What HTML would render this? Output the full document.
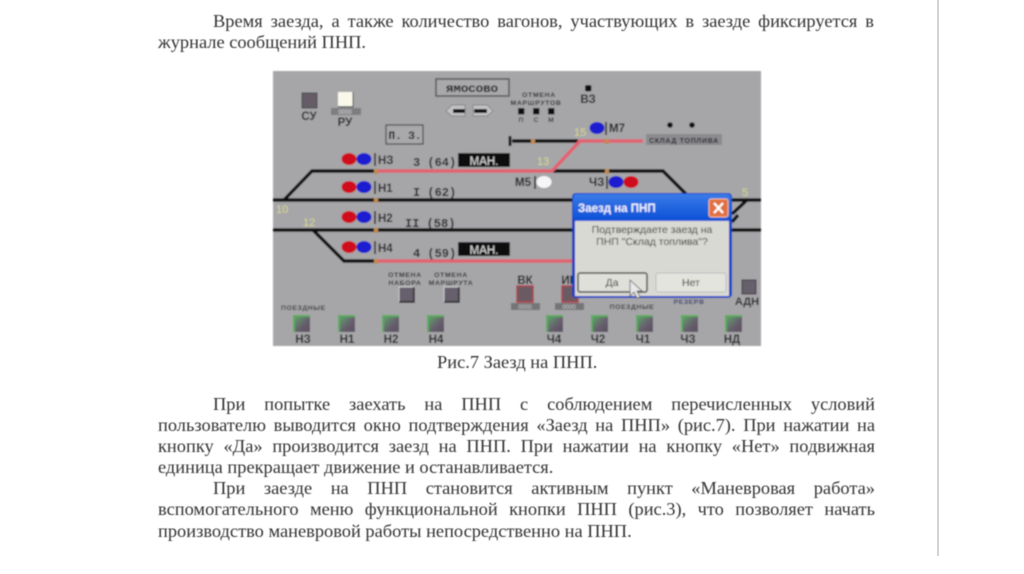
<!DOCTYPE html>
<html><head><meta charset="utf-8">
<style>
html,body{margin:0;padding:0;background:#fff}
#p{position:relative;width:1024px;height:574px;overflow:hidden;background:#fff}
.l{position:absolute;height:20px;font:18.4px/20px "Liberation Serif","Noto Serif CJK SC",serif;color:#333;white-space:nowrap;filter:blur(.45px)}
.j{text-align:justify;text-align-last:justify;white-space:normal;word-spacing:-1.5px}
svg{position:absolute;left:0;top:0}
svg text{font-family:"Liberation Sans","DejaVu Sans",sans-serif}
svg text.m{font-family:"Liberation Mono","DejaVu Sans Mono",monospace;font-weight:bold}
</style></head><body><div id="p">
<div style="position:absolute;left:937px;top:0;width:2px;height:556px;background:#d4d4d4"></div>
<div class="l j" style="left:213px;top:11px;width:661px">Время заезда, а также количество вагонов, участвующих в заезде фиксируется в</div>
<div class="l" style="left:158px;top:32px">журнале сообщений ПНП.</div>
<div class="l" style="left:437px;top:352px">Рис.7 Заезд на ПНП.</div>
<div class="l j" style="left:213px;top:394px;width:662px">При попытке заехать на ПНП с соблюдением перечисленных условий</div>
<div class="l j" style="left:158px;top:415px;width:717px">пользователю выводится окно подтверждения «Заезд на ПНП» (рис.7). При нажатии на</div>
<div class="l j" style="left:158px;top:436px;width:717px">кнопку «Да» производится заезд на ПНП. При нажатии на кнопку «Нет» подвижная</div>
<div class="l" style="left:158px;top:457px">единица прекращает движение и останавливается.</div>
<div class="l j" style="left:213px;top:478px;width:662px">При заезде на ПНП становится активным пункт «Маневровая работа»</div>
<div class="l j" style="left:158px;top:499px;width:717px">вспомогательного меню функциональной кнопки ПНП (рис.3), что позволяет начать</div>
<div class="l" style="left:158px;top:521px">производство маневровой работы непосредственно на ПНП.</div>

<svg width="1024" height="574" viewBox="0 0 1024 574" xmlns="http://www.w3.org/2000/svg">
<defs><filter id="b" x="-2%" y="-2%" width="104%" height="104%"><feGaussianBlur stdDeviation=".7"/></filter>
<linearGradient id="t" x1="0" y1="0" x2="0" y2="1"><stop offset="0" stop-color="#3a7be8"/><stop offset="1" stop-color="#0a4fd6"/></linearGradient>
<linearGradient id="g" x1="0" y1="0" x2="1" y2="1"><stop offset="0" stop-color="#5f9f6a"/><stop offset=".55" stop-color="#665e6c"/><stop offset="1" stop-color="#5b4f60"/></linearGradient></defs>
<g filter="url(#b)">
<rect x="273" y="71" width="488" height="275" fill="#a6a6a9"/>
<!-- tracks -->
<g fill="none" stroke="#0a0a0a" stroke-width="3.4">
<path d="M273 200H761M273 230H761"/>
<path d="M284 200L312 171H375"/>
<path d="M313 230L344 261H375"/>
<path d="M512 141H578"/>
<path d="M553 171H663L686 194"/>
<path d="M732 214L746 201M732 222L738 215"/>
</g>
<path d="M510 136V146" stroke="#0c0c0c" stroke-width="3"/>
<g fill="none" stroke="#e2626f" stroke-width="3.6">
<path d="M375 171H552L580 141H643"/>
<path d="M375 261H575"/>
</g>
<g fill="#c08a50"><rect x="374" y="169" width="4" height="5"/><rect x="374" y="198" width="4" height="5"/><rect x="374" y="228" width="4" height="5"/><rect x="374" y="259" width="4" height="5"/><rect x="531" y="139" width="4" height="5"/><rect x="605" y="139" width="4" height="5"/><rect x="605" y="169" width="4" height="5"/></g>

<!-- top-left controls -->
<rect x="302" y="93" width="15" height="15" fill="#655c68" stroke="#444" stroke-width="1"/>
<text x="309" y="120" font-size="11.5" font-weight="bold" fill="#1a1a1a" text-anchor="middle">СУ</text>
<rect x="338" y="92" width="15" height="14" fill="#f9f8ea"/><path d="M353 92V107H338" fill="none" stroke="#333"/>
<rect x="331" y="108" width="30" height="7" fill="#7d7d80"/>
<text x="345" y="114" font-size="6" fill="#ddd" text-anchor="middle">0000</text>
<text x="345" y="126" font-size="11.5" font-weight="bold" fill="#1a1a1a" text-anchor="middle">РУ</text>

<rect x="436" y="79" width="73" height="17" fill="#a9a9ac" stroke="#555" stroke-width="1.5"/>
<text x="472" y="92" class="m" font-size="10.5" fill="#111" text-anchor="middle" textLength="52" lengthAdjust="spacingAndGlyphs">ЯМОСОВО</text>
<path d="M446 111L452 105H465V116H452ZM493 111L487 105H473V116H487Z" fill="#c2c2c4" stroke="#777" stroke-width=".7"/>
<rect x="453" y="109" width="12" height="4" fill="#111"/><rect x="474" y="109" width="13" height="4" fill="#111"/>

<rect x="386" y="125" width="37" height="19" fill="#a9a9ac" stroke="#444" stroke-width="1.2"/>
<text x="405" y="139" class="m" font-size="11" fill="#111" text-anchor="middle">П. З.</text>

<g class="sm" font-size="6.8" font-weight="bold" fill="#222" text-anchor="middle" letter-spacing=".7">
<text x="539" y="97">ОТМЕНА</text><text x="536" y="105">МАРШРУТОВ</text></g>
<g fill="#0a0a0a"><rect x="518" y="108" width="6.5" height="6.5"/><rect x="533" y="108" width="6.5" height="6.5"/><rect x="548" y="108" width="6.5" height="6.5"/></g>
<g font-size="6.8" fill="#333" text-anchor="middle" font-weight="bold"><text x="521" y="122">П</text><text x="536" y="122">С</text><text x="551" y="122">М</text></g>
<rect x="585" y="85" width="6.5" height="6.5" rx="2" fill="#0a0a0a"/>
<text x="588" y="103" font-size="11.5" font-weight="bold" fill="#1a1a1a" text-anchor="middle">ВЗ</text>

<!-- signals -->
<g>
<ellipse cx="349" cy="159" rx="7.5" ry="6" fill="#d0101c"/><ellipse cx="364" cy="159" rx="7.5" ry="6" fill="#1a1ad0"/>
<ellipse cx="349" cy="187" rx="7.5" ry="6" fill="#d0101c"/><ellipse cx="364" cy="187" rx="7.5" ry="6" fill="#1a1ad0"/>
<ellipse cx="349" cy="217" rx="7.5" ry="6" fill="#d0101c"/><ellipse cx="364" cy="217" rx="7.5" ry="6" fill="#1a1ad0"/>
<ellipse cx="349" cy="247" rx="7.5" ry="6" fill="#d0101c"/><ellipse cx="364" cy="247" rx="7.5" ry="6" fill="#1a1ad0"/>
<ellipse cx="597" cy="128" rx="7.5" ry="6" fill="#1a1ad0"/>
<ellipse cx="616" cy="182" rx="7.5" ry="6" fill="#1a1ad0"/><ellipse cx="631" cy="182" rx="7.5" ry="6" fill="#d0101c"/>
<ellipse cx="544" cy="182" rx="7.5" ry="6" fill="#f6f6f6"/>
</g>
<g stroke="#0a0a0a" stroke-width="1.4"><path d="M375 153V166M375 181V194M375 211V224M375 241V254M606 122V135M607 176V189M535 176V189"/></g>
<g font-size="11.5" font-weight="bold" fill="#1a1a1a">
<text x="378" y="164">НЗ</text><text x="378" y="192">Н1</text><text x="378" y="222">Н2</text><text x="378" y="252">Н4</text>
<text x="609" y="132">М7</text><text x="515" y="186">М5</text><text x="589" y="186">ЧЗ</text>
</g>
<g fill="#1a1a1a" font-size="12">
<text class="m" x="413" y="166" font-size="12">3 (64)</text><text class="m" x="413" y="196" font-size="12">I (62)</text><text class="m" x="405" y="227" font-size="12">II (58)</text><text class="m" x="413" y="257" font-size="12">4 (59)</text>
</g>
<rect x="458" y="153" width="52" height="14" fill="#0a0a0a"/><rect x="458" y="242" width="52" height="14" fill="#0a0a0a"/>
<text x="484" y="165" font-size="11.5" fill="#e0e0e0" text-anchor="middle">МАН.</text>
<text x="484" y="254" font-size="11.5" fill="#e0e0e0" text-anchor="middle">МАН.</text>

<!-- switch numbers -->
<g font-size="11" fill="#d8d88c"><text x="276" y="213">10</text><text x="303" y="226">12</text><text x="537" y="165">13</text><text x="574" y="136">15</text><text x="742" y="196">5</text></g>

<!-- depot -->
<rect x="646" y="134" width="76" height="11" fill="#8c8c90"/>
<text x="684" y="143" font-size="7" font-weight="bold" fill="#1a1a1a" text-anchor="middle" letter-spacing=".7">СКЛАД ТОПЛИВА</text>
<circle cx="670" cy="125" r="2.8" fill="#0a0a0a"/><circle cx="692" cy="125" r="2.8" fill="#0a0a0a"/>

<!-- cancel buttons -->
<g font-size="6.8" font-weight="bold" fill="#222" text-anchor="middle" letter-spacing=".7"><text x="405" y="277">ОТМЕНА</text><text x="405" y="285">НАБОРА</text><text x="451" y="277">ОТМЕНА</text><text x="451" y="285">МАРШРУТА</text></g>
<rect x="399" y="287" width="15" height="15" fill="#665e6c" stroke="#ddd" stroke-width=".8"/><path d="M414 287V302H399" fill="none" stroke="#1a1a1a" stroke-width="1.4"/>
<rect x="444" y="287" width="15" height="15" fill="#665e6c" stroke="#ddd" stroke-width=".8"/><path d="M459 287V302H444" fill="none" stroke="#1a1a1a" stroke-width="1.4"/>

<text x="281" y="310" font-size="6.8" font-weight="bold" fill="#333" letter-spacing=".6">ПОЕЗДНЫЕ</text>
<text x="632" y="309" font-size="6.8" font-weight="bold" fill="#333" text-anchor="middle" letter-spacing=".6">ПОЕЗДНЫЕ</text>
<text x="689" y="304" font-size="6.8" font-weight="bold" fill="#33336a" text-anchor="middle" letter-spacing=".6">РЕЗЕРВ</text>

<!-- green buttons -->
<g fill="#5caa5c">
<rect x="293" y="315" width="17" height="17"/><rect x="338" y="315" width="17" height="17"/><rect x="382" y="315" width="17" height="17"/><rect x="427" y="315" width="17" height="17"/>
<rect x="546" y="315" width="17" height="17"/><rect x="591" y="315" width="17" height="17"/><rect x="636" y="315" width="17" height="17"/><rect x="681" y="315" width="17" height="17"/><rect x="725" y="315" width="17" height="17"/>
</g>
<g fill="url(#g)">
<rect x="295" y="317" width="15" height="15"/><rect x="340" y="317" width="15" height="15"/><rect x="384" y="317" width="15" height="15"/><rect x="429" y="317" width="15" height="15"/>
<rect x="548" y="317" width="15" height="15"/><rect x="593" y="317" width="15" height="15"/><rect x="638" y="317" width="15" height="15"/><rect x="683" y="317" width="15" height="15"/><rect x="727" y="317" width="15" height="15"/>
</g>
<g font-size="11.5" font-weight="bold" fill="#1a1a1a" text-anchor="middle">
<text x="303" y="343">НЗ</text><text x="347" y="343">Н1</text><text x="391" y="343">Н2</text><text x="436" y="343">Н4</text>
<text x="554" y="343">Ч4</text><text x="598" y="343">Ч2</text><text x="643" y="343">Ч1</text><text x="688" y="343">ЧЗ</text><text x="732" y="343">НД</text>
</g>

<!-- VK / IK -->
<text x="525" y="284" font-size="11.5" font-weight="bold" fill="#1a1a1a" text-anchor="middle">ВК</text>
<text x="569" y="284" font-size="11.5" font-weight="bold" fill="#1a1a1a" text-anchor="middle">ИК</text>
<rect x="517" y="286" width="16" height="16" fill="#6c5a64" stroke="#b04048" stroke-width="1.5"/>
<rect x="562" y="286" width="16" height="16" fill="#6c5a64" stroke="#b04048" stroke-width="1.5"/>
<rect x="511" y="303" width="29" height="7" fill="#757578"/><rect x="555" y="303" width="29" height="7" fill="#757578"/>
<text x="525" y="309" font-size="6" fill="#ccc" text-anchor="middle">0000</text><text x="569" y="309" font-size="6" fill="#ccc" text-anchor="middle">0000</text>

<!-- ADN -->
<rect x="742" y="280" width="14" height="14" fill="#665e6c" stroke="#333"/>
<text x="747" y="305" font-size="11" font-weight="bold" fill="#1a1a1a" text-anchor="middle">АДН</text>

<!-- dialog -->
<rect x="572" y="193" width="160" height="105" rx="4" fill="#0c3fc4"/>
<rect x="573" y="194" width="158" height="27" rx="4" fill="url(#t)"/>
<rect x="575" y="221" width="154" height="75" fill="#d9d9d4"/>
<text x="578" y="212" font-size="11.5" font-weight="bold" fill="#eef2ff">Заезд на ПНП</text>
<rect x="709" y="199" width="19" height="18" rx="2" fill="#e0703c" stroke="#f0c0a0"/>
<path d="M714 203L723 213M723 203L714 213" stroke="#fff" stroke-width="2.2"/>
<text x="652" y="233" font-size="10.5" fill="#222" text-anchor="middle">Подтверждаете заезд на</text>
<text x="652" y="245" font-size="10.5" fill="#222" text-anchor="middle">ПНП "Склад топлива"?</text>
<rect x="578" y="273" width="69" height="19" rx="2" fill="#e0e0da" stroke="#444" stroke-width="1.5"/>
<rect x="656" y="273" width="70" height="19" rx="2" fill="#e4e4de" stroke="#bbb" stroke-width="1"/>
<text x="612" y="286" font-size="10.5" fill="#111" text-anchor="middle">Да</text>
<text x="691" y="286" font-size="10.5" fill="#111" text-anchor="middle">Нет</text>
<path d="M630 280V296L634 292L637 298L640 297L637 291L642 291Z" fill="#e8e8e8" stroke="#555" stroke-width=".8"/>
</g>
</svg>
</div></body></html>
